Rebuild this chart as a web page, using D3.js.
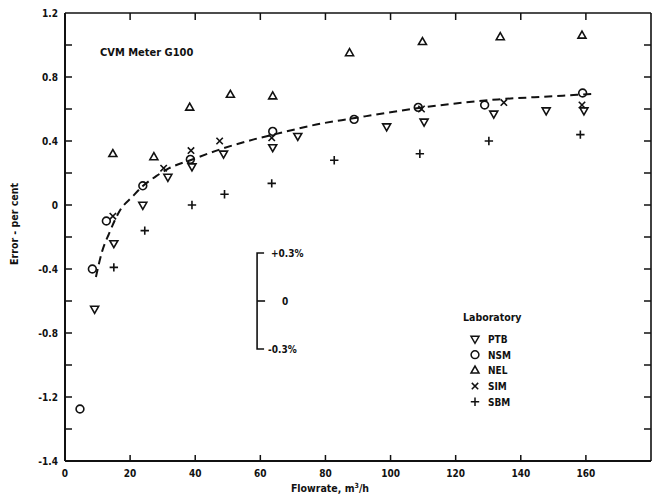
<!DOCTYPE html>
<html><head><meta charset="utf-8">
<script src="https://cdn.jsdelivr.net/npm/d3@7"></script>
<style>
body{margin:0;background:#fff;}
svg{display:block;}
text{font-family:"DejaVu Sans Condensed","DejaVu Sans",sans-serif;font-weight:bold;fill:#111;}
</style></head>
<body>
<svg id="c" width="653" height="499"></svg>
<script>
// ---- data (flowrate m3/h, error %) ----
const ptb = [[9.1,-0.65],[15,-0.24],[23.9,0.0],[31.6,0.175],[39,0.24],[48.7,0.32],[63.8,0.36],[71.5,0.43],[98.8,0.49],[110.3,0.52],[131.7,0.57],[147.8,0.59],[159.4,0.59]];
const nsm = [[4.6,-1.275],[8.4,-0.40],[12.7,-0.10],[23.9,0.12],[38.5,0.285],[63.8,0.46],[88.8,0.535],[108.5,0.61],[128.9,0.625],[159,0.70]];
const nel = [[14.7,0.32],[27.3,0.30],[38.3,0.61],[50.8,0.69],[63.8,0.68],[87.4,0.95],[109.8,1.02],[133.7,1.05],[158.8,1.06]];
const sim = [[14.7,-0.07],[30.3,0.23],[38.7,0.34],[47.5,0.40],[63.5,0.42],[109.5,0.60],[134.8,0.64],[158.8,0.625]];
const sbm = [[15,-0.39],[24.5,-0.16],[39,0.0],[49,0.067],[63.5,0.135],[82.7,0.28],[109,0.32],[130.2,0.40],[158.3,0.44]];
const fitCurve = [[9.5,-0.45],[11.4,-0.29],[13.5,-0.18],[17,-0.03],[20.6,0.05],[24,0.12],[28,0.18],[32,0.23],[38.5,0.28],[48,0.35],[58,0.41],[64,0.44],[79,0.51],[88,0.54],[100,0.58],[110,0.61],[120,0.635],[133,0.66],[150,0.68],[162.5,0.695]];
const xTicks = [0,20,40,60,80,100,120,140,160];
const yTicks = [1.2,0.8,0.4,0,-0.4,-0.8,-1.2,-1.6];
const yTickLabels = ["1.2","0.8","0.4","0","-0.4","-0.8","-1.2","-1.4"];
const yMinor = [1.2,1.0,0.8,0.6,0.4,0.2,0,-0.2,-0.4,-0.6,-0.8,-1.0,-1.2,-1.4,-1.6];
const scaleBar = {x:59, center:-0.6, half:0.3, labels:["+0.3%","0","-0.3%"]};
const legendNames = ["PTB","NSM","NEL","SIM","SBM"];

const svg = d3.select("#c");
const L=65, R=651, T=13, B=461;
const x = d3.scaleLinear().domain([0,180]).range([L,R]);
const y = d3.scaleLinear().domain([-1.6,1.2]).range([B,T]);

// frame
const g = svg.append("g").attr("stroke","#111").attr("fill","none");
g.append("line").attr("x1",L).attr("x2",L).attr("y1",T).attr("y2",B).attr("stroke-width",2);
g.append("line").attr("x1",L).attr("x2",R).attr("y1",B).attr("y2",B).attr("stroke-width",1.8);
g.append("line").attr("x1",L).attr("x2",R).attr("y1",T).attr("y2",T).attr("stroke-width",1.6);
g.append("line").attr("x1",R).attr("x2",R).attr("y1",T).attr("y2",B).attr("stroke-width",1.6);

// ticks
const tk = svg.append("g").attr("stroke","#111").attr("stroke-width",1.5);
xTicks.filter(d=>d>0).forEach(d=>{
  tk.append("line").attr("x1",x(d)).attr("x2",x(d)).attr("y1",B).attr("y2",B-6);
  tk.append("line").attr("x1",x(d)).attr("x2",x(d)).attr("y1",T).attr("y2",T+7);
});
yMinor.filter(d=>d<1.2 && d>-1.6).forEach(d=>{
  tk.append("line").attr("x1",L).attr("x2",L+7).attr("y1",y(d)).attr("y2",y(d));
  tk.append("line").attr("x1",R).attr("x2",R-7).attr("y1",y(d)).attr("y2",y(d));
});

// tick labels
const lab = svg.append("g").attr("font-size",10);
xTicks.forEach(d=>lab.append("text").attr("x",x(d)).attr("y",B+16).attr("text-anchor","middle").text(d));
yTicks.forEach((d,i)=>lab.append("text").attr("x",L-7).attr("y",y(d)+4).attr("text-anchor","end").text(yTickLabels[i]));

// axis titles
svg.append("text").attr("x",330).attr("y",492).attr("text-anchor","middle").attr("font-size",10.5)
  .html('Flowrate, m<tspan dy="-4" font-size="7">3</tspan><tspan dy="4">/h</tspan>');
svg.append("text").attr("transform","translate(18,224) rotate(-90)").attr("text-anchor","middle").attr("font-size",10.5).text("Error  -  per  cent");
svg.append("text").attr("x",100).attr("y",56).attr("font-size",11).text("CVM Meter G100");

// dashed fit curve
svg.append("path").datum(fitCurve)
  .attr("d",d3.line().x(d=>x(d[0])).y(d=>y(d[1])).curve(d3.curveMonotoneX))
  .attr("fill","none").attr("stroke","#111").attr("stroke-width",2).attr("stroke-dasharray","8,5");

// marker shapes
const shapes = {
  PTB: ()=>`M-4,-2.7 L4,-2.7 L0,4.3 Z`,
  NSM: ()=>`M3.9,0 A3.9,3.9 0 1,1 -3.9,0 A3.9,3.9 0 1,1 3.9,0 Z`,
  NEL: ()=>`M-4,2.7 L4,2.7 L0,-4.3 Z`,
  SIM: ()=>`M-3.2,-3.2 L3.2,3.2 M-3.2,3.2 L3.2,-3.2`,
  SBM: ()=>`M-4.2,0 L4.2,0 M0,-4.2 L0,4.2`
};
const series = [["PTB",ptb],["NSM",nsm],["NEL",nel],["SIM",sim],["SBM",sbm]];
const mk = svg.append("g").attr("fill","none").attr("stroke","#111").attr("stroke-width",1.6);
series.forEach(([name,data])=>{
  mk.selectAll(null).data(data).enter().append("path")
    .attr("transform",d=>`translate(${x(d[0])},${y(d[1])})`)
    .attr("d",shapes[name]());
});

// scale bar
const sb = svg.append("g").attr("stroke","#111").attr("stroke-width",1.6);
const sx = x(scaleBar.x);
const yTop = y(scaleBar.center+scaleBar.half), yMid=y(scaleBar.center), yBot=y(scaleBar.center-scaleBar.half);
sb.append("path").attr("fill","none").attr("d",`M${sx+7},${yTop} L${sx},${yTop} L${sx},${yBot} L${sx+7},${yBot}`);
sb.append("line").attr("x1",sx).attr("x2",sx+8).attr("y1",yMid).attr("y2",yMid);
const sbt = svg.append("g").attr("font-size",10);
sbt.append("text").attr("x",sx+14).attr("y",yTop+4).text(scaleBar.labels[0]);
sbt.append("text").attr("x",sx+25).attr("y",yMid+4).text(scaleBar.labels[1]);
sbt.append("text").attr("x",sx+11).attr("y",yBot+4).text(scaleBar.labels[2]);

// legend
const lg = svg.append("g").attr("transform","translate(463,0)");
lg.append("text").attr("x",0).attr("y",321).attr("font-size",10.5).text("Laboratory");
legendNames.forEach((n,i)=>{
  const yy = 339 + i*15.7;
  lg.append("path").attr("transform",`translate(12,${yy})`).attr("d",shapes[n]())
    .attr("fill","none").attr("stroke","#111").attr("stroke-width",1.5);
  lg.append("text").attr("x",25).attr("y",yy+4).attr("font-size",10).text(n);
});
</script>
</body></html>
